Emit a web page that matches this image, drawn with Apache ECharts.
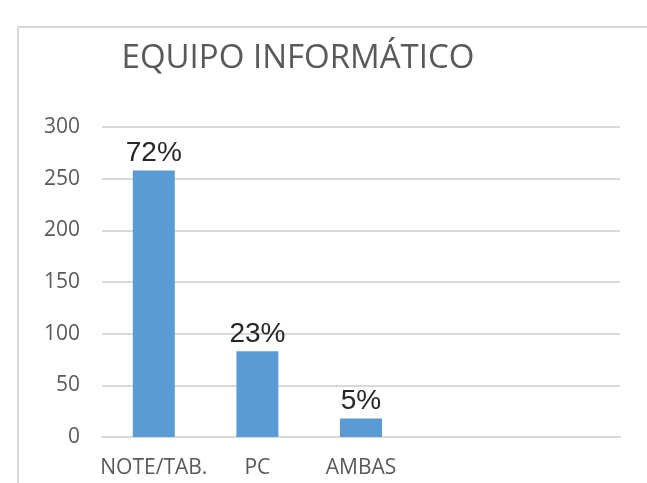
<!DOCTYPE html>
<html><head><meta charset="utf-8">
<script src="https://cdn.jsdelivr.net/npm/echarts@6/dist/echarts.min.js"></script>
<style>html,body{margin:0;padding:0;background:#fff}#c{width:647px;height:483px}</style>
</head><body><div id="c"></div>
<script>
const categories = ['NOTE/TAB.', 'PC', 'AMBAS', '', ''];
const values = [258, 83, 18, null, null];
const pctLabels = ['72%', '23%', '5%', '', ''];
const yTicks = [0, 50, 100, 150, 200, 250, 300];

const chart = echarts.init(document.getElementById('c'));
chart.setOption({
  animation: false,
  title: {
    text: 'EQUIPO INFORMÁTICO',
    left: 293, top: 37, textAlign: 'center',
    textStyle: { fontFamily: 'Open Sans', fontWeight: 'normal', fontSize: 33, color: '#595959' }
  },
  graphic: [{
    type: 'polyline',
    shape: { points: [[18, 483], [18, 27], [647, 27]] },
    style: { stroke: '#d9d9d9', lineWidth: 2, fill: null }
  }],
  grid: { left: 102, right: 27, top: 127, bottom: 46, containLabel: false },
  xAxis: {
    type: 'category', data: categories,
    axisLine: { show: true, lineStyle: { color: '#d9d9d9', width: 2 } },
    axisTick: { show: false },
    axisLabel: { interval: 0, fontFamily: 'Open Sans', fontSize: 21, color: '#595959', margin: 21 }
  },
  yAxis: {
    type: 'value', min: yTicks[0], max: yTicks[yTicks.length - 1], interval: 50,
    axisLine: { show: false }, axisTick: { show: false },
    splitLine: { lineStyle: { color: '#d9d9d9', width: 2 } },
    axisLabel: { fontFamily: 'Open Sans', fontSize: 21, color: '#595959', margin: 22 }
  },
  series: [{
    type: 'bar', data: values, barWidth: 42,
    itemStyle: { color: '#5b9bd5' },
    label: {
      show: true, position: 'top', distance: 3,
      fontFamily: 'Liberation Sans', fontSize: 28, color: '#262626',
      formatter: p => pctLabels[p.dataIndex]
    }
  }]
});
</script></body></html>
